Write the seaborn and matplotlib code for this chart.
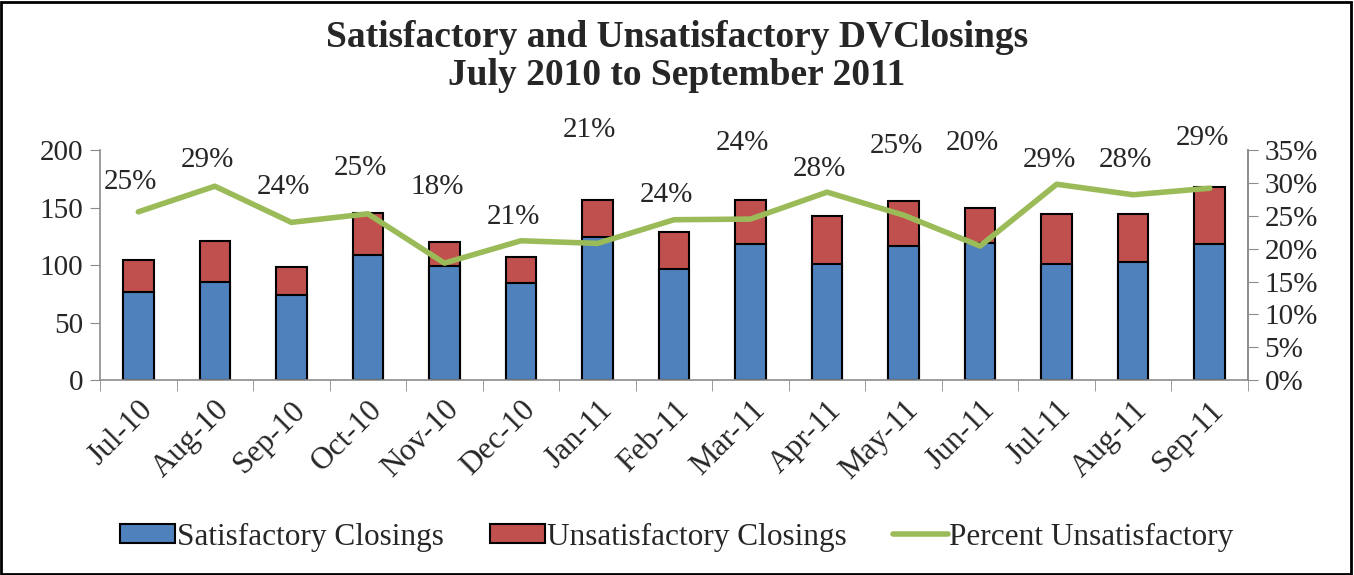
import numpy as np
import pandas as pd
import matplotlib
matplotlib.use("Agg")
import matplotlib.pyplot as plt
import seaborn as sns
from matplotlib.ticker import PercentFormatter, MultipleLocator
from matplotlib.patches import Rectangle
from matplotlib.lines import Line2D

sns.set_style("white")
plt.rcParams["font.family"] = ["Liberation Serif", "DejaVu Serif"]

months = ["Jul-10", "Aug-10", "Sep-10", "Oct-10", "Nov-10", "Dec-10", "Jan-11",
          "Feb-11", "Mar-11", "Apr-11", "May-11", "Jun-11", "Jul-11", "Aug-11", "Sep-11"]
satisfactory = [77, 85, 74, 109, 99, 84, 124, 97, 118, 101, 117, 119, 101, 103, 118]
unsatisfactory = [27, 36, 24, 36, 21, 23, 33, 32, 39, 42, 39, 31, 43, 41, 50]
pct_unsat = [0.256, 0.295, 0.240, 0.253, 0.178, 0.212, 0.208, 0.244, 0.245,
             0.286, 0.251, 0.204, 0.298, 0.282, 0.292]
pct_labels = ["25%", "29%", "24%", "25%", "18%", "21%", "21%", "24%", "24%",
              "28%", "25%", "20%", "29%", "28%", "29%"]
# where each label sits (on the percent axis), as placed in the original
label_pos = [0.301, 0.335, 0.294, 0.323, 0.294, 0.248, 0.381, 0.282, 0.361,
             0.321, 0.356, 0.361, 0.335, 0.335, 0.368]

df = pd.DataFrame({"Month": months, "Sat": satisfactory, "Unsat": unsatisfactory,
                   "Pct": pct_unsat})
df["Total"] = df["Sat"] + df["Unsat"]

blue = "#4f81bd"
red = "#c0504d"
green = "#9bbb59"
grey = "#8c8c8c"

fig = plt.figure(figsize=(13.54, 5.75), dpi=100)
ax = fig.add_axes([0.0739, 0.339, 0.8478, 0.4])

sns.barplot(x="Month", y="Total", data=df, color=red, saturation=1, width=0.4,
            edgecolor="black", linewidth=1.5, ax=ax)
sns.barplot(x="Month", y="Sat", data=df, color=blue, saturation=1, width=0.4,
            edgecolor="black", linewidth=1.5, ax=ax)

ax.set_xlim(-0.5, len(months) - 0.5)
ax.set_ylim(0, 200)
ax.yaxis.set_major_locator(MultipleLocator(50))
ax.set_xlabel("")
ax.set_ylabel("")

ax.spines["top"].set_visible(False)
for s in ["left", "bottom", "right"]:
    ax.spines[s].set_color(grey)
    ax.spines[s].set_linewidth(1.2)

ax.tick_params(axis="y", direction="out", length=7, color=grey, labelsize=21,
               left=True, pad=5)
ax.set_xticks(np.arange(len(months)))
ax.set_xticklabels(months, rotation=45, ha="right", rotation_mode="anchor",
                   fontsize=22.5)
ax.tick_params(axis="x", which="major", length=0, pad=11)
ax.set_xticks(np.arange(-0.5, len(months)), minor=True)
ax.tick_params(axis="x", which="minor", direction="out", length=8, color=grey,
               bottom=True)

ax2 = ax.twinx()
sns.lineplot(x=np.arange(len(months)), y=pct_unsat, color=green, linewidth=4,
             ax=ax2)
ax2.set_ylim(0, 0.35)
ax2.yaxis.set_major_locator(MultipleLocator(0.05))
ax2.yaxis.set_major_formatter(PercentFormatter(xmax=1, decimals=0))
ax2.tick_params(axis="y", direction="out", length=7, color=grey, labelsize=21,
                right=True, pad=5)
ax2.spines["top"].set_visible(False)
ax2.spines["left"].set_visible(False)
ax2.spines["bottom"].set_visible(False)
ax2.spines["right"].set_color(grey)
ax2.spines["right"].set_linewidth(1.2)

for i, (lab, yp) in enumerate(zip(pct_labels, label_pos)):
    ax2.text(i - 0.1, yp, lab, ha="center", va="center", fontsize=21,
             clip_on=False)

fig.suptitle("Satisfactory and Unsatisfactory DVClosings\nJuly 2010 to September 2011",
             fontsize=27, fontweight="bold", y=0.965, linespacing=1.1)

handles = [Rectangle((0, 0), 1, 1, facecolor=blue, edgecolor="black", linewidth=1.5),
           Rectangle((0, 0), 1, 1, facecolor=red, edgecolor="black", linewidth=1.5),
           Line2D([0], [0], color=green, linewidth=4)]
fig.legend(handles, ["Satisfactory Closings", "Unsatisfactory Closings",
                     "Percent Unsatisfactory"],
           loc="center", bbox_to_anchor=(0.5, 0.066), ncol=3, frameon=False,
           fontsize=22.5, handlelength=1.75, handleheight=0.55, handletextpad=0.05,
           columnspacing=1.5)

fig.add_artist(Rectangle((0.001, 0.002), 0.997, 0.995, transform=fig.transFigure,
                         fill=False, edgecolor="black", linewidth=2))

fig.savefig("out.png", dpi=100)
